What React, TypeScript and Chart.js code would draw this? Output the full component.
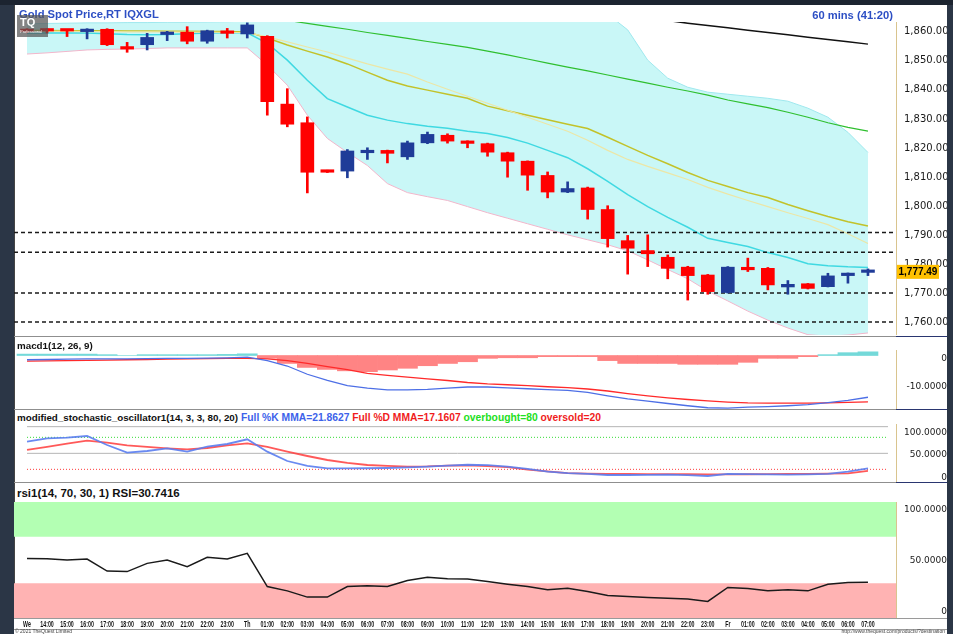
import React, { useEffect, useRef } from 'react';
import { Chart, registerables } from 'chart.js';

Chart.register(...registerables);
Chart.defaults.font.family = "'DejaVu Sans', sans-serif";

// ---------------- data ----------------
const xLabels = ['We','14:00','15:00','16:00','17:00','18:00','19:00','20:00','21:00','22:00','23:00','Th','01:00','02:00','03:00','04:00','05:00','06:00','07:00','08:00','09:00','10:00','11:00','12:00','13:00','14:00','15:00','16:00','17:00','18:00','19:00','20:00','21:00','22:00','23:00','Fr','01:00','02:00','03:00','04:00','05:00','06:00','07:00'];

const openP = [1860.4,1860.8,1860.6,1860.0,1860.8,1854.2,1855.5,1859.0,1859.8,1856.7,1859.7,1859.2,1858.4,1835.1,1828.7,1812.3,1812.1,1818.4,1819.2,1817.0,1821.8,1824.4,1822.4,1821.5,1818.4,1815.5,1810.6,1804.9,1806.3,1798.9,1788.2,1784.8,1782.5,1779.1,1776.4,1770.4,1779.0,1778.7,1772.3,1773.4,1772.4,1776.2,1777.3];
const highP = [1861.0,1861.0,1860.7,1861.0,1861.0,1856.3,1859.4,1860.1,1861.7,1860.5,1861.1,1863.0,1858.6,1840.4,1830.7,1812.4,1819.5,1820.1,1819.3,1822.4,1825.5,1824.9,1822.5,1821.7,1818.6,1815.6,1811.8,1808.4,1806.6,1800.2,1790.0,1790.2,1783.3,1779.4,1776.6,1779.3,1782.2,1779.0,1774.5,1773.5,1777.0,1777.1,1778.5];
const lowP = [1859.6,1859.5,1858.3,1857.5,1855.2,1852.9,1853.7,1856.9,1855.8,1856.0,1857.8,1857.8,1831.3,1827.3,1804.6,1811.6,1809.8,1816.1,1814.9,1816.1,1821.5,1821.7,1820.1,1817.2,1810.0,1805.5,1802.9,1804.7,1795.6,1786.0,1776.7,1779.3,1775.1,1767.8,1769.8,1770.2,1777.6,1771.3,1769.8,1771.6,1772.3,1773.6,1776.2];
const closeP = [1860.0,1860.2,1860.2,1860.3,1855.5,1854.0,1858.0,1859.4,1856.7,1860.3,1859.4,1862.3,1835.9,1828.2,1811.7,1811.7,1819.0,1819.2,1818.2,1821.8,1824.7,1822.4,1821.6,1818.6,1815.5,1810.7,1804.9,1806.1,1798.9,1788.9,1785.6,1783.7,1778.7,1776.2,1770.7,1779.1,1778.2,1773.0,1773.2,1771.8,1776.1,1776.9,1777.49];

const bbUpper = [1862.7,1862.8,1862.9,1863.0,1863.0,1863.1,1863.1,1863.2,1863.2,1863.3,1863.4,1863.6,1866.0,1872.0,1879.0,1884.0,1886.0,1887.0,1887.0,1886.0,1884.5,1883.0,1881.5,1880.0,1878.5,1877.0,1875.0,1873.0,1870.5,1866.0,1860.6,1850.2,1844.0,1840.9,1839.2,1838.5,1837.8,1837.1,1836.1,1833.7,1830.6,1825.4,1818.5];
const bbMiddle = [1859.4,1859.5,1859.5,1859.5,1859.3,1859.0,1858.9,1859.0,1859.3,1859.5,1859.6,1859.6,1856.0,1850.2,1843.3,1837.0,1834.1,1831.3,1829.6,1828.4,1827.5,1826.8,1825.8,1825.0,1823.6,1821.7,1819.2,1816.7,1812.9,1808.6,1804.0,1799.9,1796.2,1792.8,1789.0,1787.6,1786.2,1784.1,1782.4,1780.3,1779.6,1779.2,1779.0];
const bbLower = [1852.3,1852.7,1853.2,1853.7,1853.9,1854.0,1854.2,1854.4,1854.4,1854.4,1854.4,1854.4,1848.5,1841.6,1831.3,1823.3,1818.5,1814.0,1807.8,1804.7,1803.3,1802.0,1799.9,1797.8,1795.9,1794.0,1792.1,1790.2,1788.5,1786.8,1784.7,1781.6,1778.3,1775.1,1770.9,1767.5,1764.0,1760.9,1758.2,1755.9,1755.4,1755.8,1756.5];
const maOlive = [1860.4,1860.4,1860.3,1860.3,1860.3,1860.2,1860.2,1860.1,1860.1,1860.0,1860.0,1859.9,1857.8,1855.4,1853.3,1851.3,1848.9,1846.1,1843.3,1841.3,1839.9,1838.5,1837.1,1834.4,1832.8,1831.3,1829.7,1828.2,1826.7,1823.7,1820.6,1817.5,1814.6,1811.6,1808.9,1806.8,1804.7,1803.0,1800.6,1798.5,1796.5,1794.7,1793.2];
const maPale = [1860.1,1860.1,1860.1,1860.0,1860.0,1859.9,1859.9,1859.9,1859.8,1859.8,1859.7,1859.7,1858.2,1856.5,1854.7,1853.0,1850.9,1848.9,1847.1,1845.4,1842.7,1840.2,1837.8,1835.4,1833.0,1830.6,1828.2,1825.8,1822.7,1819.2,1816.1,1813.7,1811.5,1809.2,1806.5,1804.2,1802.0,1799.9,1797.8,1795.8,1793.7,1790.6,1787.2];
const maGreen = [null,null,null,null,null,null,null,null,null,null,null,null,null,1863.9,1862.8,1861.8,1860.8,1859.7,1858.7,1857.7,1856.6,1855.6,1854.6,1853.3,1852.0,1850.6,1849.2,1847.8,1846.5,1845.1,1843.7,1842.3,1840.9,1839.6,1838.2,1836.5,1835.2,1833.9,1832.3,1830.6,1828.7,1827.1,1825.8];
const maBlack = [null,null,null,null,null,null,null,null,null,null,null,null,null,null,null,null,null,null,null,null,null,null,null,null,null,null,null,null,null,null,null,null,1863.8,1862.9,1862.1,1861.3,1860.5,1859.7,1858.9,1858.1,1857.3,1856.5,1855.7];
const levelLines = [1791.0, 1784.2, 1770.2, 1760.3];
const priceTicks = [1760, 1770, 1780, 1790, 1800, 1810, 1820, 1830, 1840, 1850, 1860];

const macdLine = [-1.5,-1.4,-1.3,-1.2,-1.2,-1.2,-1.1,-1.0,-1.0,-0.9,-0.8,-0.6,-1.8,-3.7,-6.6,-8.8,-10.6,-11.5,-12.1,-12.1,-11.9,-11.5,-11.1,-11.1,-11.4,-11.7,-12.0,-12.3,-13.0,-14.2,-15.3,-16.1,-16.9,-17.7,-18.4,-18.5,-18.2,-18.0,-17.7,-17.3,-16.6,-15.8,-14.7];
const macdSignal = [-2.0,-1.9,-1.8,-1.7,-1.6,-1.5,-1.4,-1.3,-1.2,-1.1,-1.0,-1.0,-1.2,-1.8,-2.8,-3.9,-5.0,-6.3,-7.0,-7.6,-8.2,-8.8,-9.5,-10.0,-10.3,-10.6,-11.0,-11.3,-11.8,-12.5,-13.4,-14.2,-14.9,-15.5,-16.0,-16.4,-16.7,-16.8,-16.8,-16.8,-16.7,-16.5,-16.3];
const macdHist = [0.5,0.5,0.5,0.5,0.3,0,0.3,0.3,0.3,0.3,0.4,0.6,-1.0,-2.8,-4.2,-4.9,-5.4,-5.7,-5.1,-4.5,-3.6,-2.8,-2.2,-1.0,-0.8,-0.8,-0.4,-0.4,-0.4,-1.8,-2.8,-2.8,-2.8,-3.1,-3.1,-3.1,-2.4,-1.0,-1.0,-0.4,0.3,1.0,1.3];
const macdTicks = [0, -10];

const stochK = [71.9,78.1,79.4,82.5,65.6,51.3,54.4,59.4,53.1,62.5,67.5,76.3,53.1,35.6,26.3,21.9,21.9,22.0,22.5,23.8,25.0,27.0,28.6,28.0,25.0,21.0,15.6,13.0,11.3,9.4,9.4,9.5,10.0,9.0,7.5,11.3,11.0,10.5,10.0,10.5,11.6,15.6,21.86];
const stochD = [56.3,62.0,68.0,73.8,70.0,65.0,62.0,59.4,57.5,60.0,65.0,68.8,62.0,53.1,45.0,37.5,32.0,28.1,26.5,25.0,25.5,27.0,27.5,26.0,24.0,19.5,16.0,13.0,12.0,11.5,11.3,11.0,11.0,10.8,10.6,10.6,10.8,11.0,11.3,11.5,12.0,12.5,17.16];
const stochTicks = [100, 50, 0];
const overbought = 80;
const oversold = 20;

const rsiValues = [51.4,51.1,50.0,50.8,40.5,40.0,47.1,50.0,44.3,52.3,50.8,55.7,27.1,23.4,18.0,18.0,27.1,27.7,27.1,32.3,35.1,33.9,33.6,31.4,29.1,27.1,24.3,25.7,22.9,19.4,18.6,17.7,17.1,16.3,14.3,26.3,25.4,23.4,24.3,23.4,29.1,30.5,30.74];
const rsiTicks = [100, 50, 0];
const rsiHigh = 70;
const rsiLow = 30;

// ---------------- helpers ----------------
const X_MIN = -0.65;
const X_MAX = 43.4;
const AXIS_W = 51;
const RED = '#ff0000';
const BLUE = '#1f3c98';

const pts = (arr: (number | null)[]) => arr.map((y, i) => ({ x: i, y }));
const hline = (v: number, a = X_MIN, b = X_MAX) => [{ x: a, y: v }, { x: b, y: v }];

function xScale(show: boolean) {
  return {
    type: 'linear', min: X_MIN, max: X_MAX, offset: false, display: show,
    grid: { display: false, offset: false, drawTicks: false },
    border: { display: false },
    afterBuildTicks: (s: any) => { s.ticks = xLabels.map((_, i) => ({ value: i })); },
    afterFit: (s: any) => { s.height = show ? 12 : 0; s.paddingLeft = 0; s.paddingRight = 0; },
    ticks: { display: false, autoSkip: false, maxRotation: 0, minRotation: 0, callback: (v: number) => xLabels[Math.round(v)] ?? '' },
  };
}

// time labels drawn in a condensed face (horizontal squeeze), like the reference
const timeLabelPlugin = {
  id: 'timeLabels',
  afterDraw(chart: any) {
    const { ctx, chartArea } = chart;
    const xs = chart.scales.x;
    ctx.save();
    ctx.font = "bold 8.5px 'Liberation Sans', sans-serif";
    ctx.fillStyle = '#151515';
    ctx.textAlign = 'center';
    ctx.textBaseline = 'middle';
    const yy = chartArea.bottom + 6.7;
    xLabels.forEach((lab, i) => {
      const px = xs.getPixelForValue(i);
      ctx.save();
      ctx.translate(px, yy);
      ctx.scale(0.62, 1);
      ctx.fillText(lab, 0, 0);
      ctx.restore();
    });
    ctx.restore();
  },
};

function yScale(c: any) {
  return {
    type: 'linear', position: 'right', min: c.min, max: c.max,
    grid: { display: false, drawTicks: false },
    border: { display: true, color: '#d9c48e', width: 1, dash: [1, 2] },
    afterBuildTicks: (s: any) => { s.ticks = c.ticks.map((v: number) => ({ value: v })); },
    afterFit: (s: any) => { s.width = AXIS_W; s.paddingTop = 0; s.paddingBottom = 0; },
    ticks: {
      padding: c.padding, crossAlign: c.far ? 'far' : 'near', labelOffset: c.labelOffset ?? 0,
      color: '#1a1a1a',
      font: { family: "'DejaVu Sans', sans-serif", size: c.size, lineHeight: c.lineHeight ?? 1.2 },
      callback: (v: number) => c.fmt(v),
    },
  };
}

function baseOptions(x: any, y: any, padding: any) {
  return {
    responsive: false, maintainAspectRatio: false, animation: false, events: [],
    layout: { padding },
    plugins: { legend: { display: false }, tooltip: { enabled: false } },
    scales: { x, y },
  };
}

const line = (data: any, color: string, width: number, order: number, extra: any = {}) => ({
  type: 'line', data, borderColor: color, borderWidth: width, pointRadius: 0, tension: 0,
  spanGaps: false, order, ...extra,
});

// ---------------- chart configs ----------------
const lastClose = closeP[closeP.length - 1];

function priceConfig() {
  const colors = closeP.map((c, i) => (c >= openP[i] ? BLUE : RED));
  const datasets: any[] = [
    { type: 'bar', data: closeP.map((c, i) => ({ x: i, y: [Math.min(c, openP[i]), Math.max(c, openP[i])] })),
      backgroundColor: colors, barThickness: 13, grouped: false, minBarLength: 2.5, order: 0 },
    { type: 'bar', data: closeP.map((_, i) => ({ x: i, y: [lowP[i], highP[i]] })),
      backgroundColor: colors, barThickness: 2, grouped: false, order: 1 },
    ...levelLines.map((v) => line(hline(v), '#1a1a1a', 1.5, 2, { borderDash: [4, 3] })),
    line(pts(maBlack), '#111111', 1.5, 3),
    line(pts(maGreen), '#2fbf2f', 1.2, 4),
    line(pts(maPale), '#ece6a6', 1.2, 5),
    line(pts(maOlive), '#c2c22a', 1.5, 6),
    line(pts(bbMiddle), '#3fd9e2', 1.5, 7),
    line(pts(bbUpper), '#9fe8ee', 1, 10, { fill: '+1', backgroundColor: '#c9f7f7' }),
    line(pts(bbLower), '#f2b6cb', 1, 9),
  ];
  const y = yScale({
    min: 1755.8, max: 1863.3, ticks: priceTicks, padding: 8, far: false, size: 10,
    fmt: (v: number) => v.toLocaleString('en-US', { minimumFractionDigits: 2, maximumFractionDigits: 2 }),
  });
  return {
    type: 'line',
    data: { datasets },
    options: baseOptions(xScale(false), y, { top: 17, bottom: 0, left: 0, right: 0 }),
    plugins: [{
      id: 'lastPrice',
      afterDraw(chart: any) {
        const { ctx, chartArea } = chart;
        const yy = chart.scales.y.getPixelForValue(lastClose);
        ctx.save();
        ctx.fillStyle = '#ffc000';
        ctx.fillRect(chartArea.right + 1, yy - 7, 42, 14);
        ctx.fillStyle = '#000';
        ctx.font = "bold 10px 'Liberation Sans', sans-serif";
        ctx.textAlign = 'left';
        ctx.textBaseline = 'middle';
        ctx.fillText(lastClose.toLocaleString('en-US', { minimumFractionDigits: 2 }), chartArea.right + 2.5, yy + 0.5);
        ctx.restore();
      },
    }],
  };
}

function macdConfig() {
  const datasets: any[] = [
    line(pts(macdLine), '#4d6fe6', 1.3, 0),
    line(pts(macdSignal), '#ff2a2a', 1.3, 1),
    { type: 'bar', data: pts(macdHist), backgroundColor: macdHist.map((v) => (v >= 0 ? '#74d9d9' : '#ff8484')),
      barPercentage: 1, categoryPercentage: 1, grouped: false, order: 2 },
  ];
  const y = yScale({
    min: -18.84, max: 1.94, ticks: macdTicks, padding: 7.5, far: true, size: 9, labelOffset: 3,
    fmt: (v: number) => (v === 0 ? '0' : v.toFixed(4)),
  });
  return { type: 'line', data: { datasets }, options: baseOptions(xScale(false), y, 0) };
}

function stochConfig() {
  const datasets: any[] = [
    line(pts(stochK), 'rgba(90,125,240,0.9)', 1.8, 0),
    line(pts(stochD), 'rgba(255,60,60,0.85)', 1.8, 1),
    line(hline(overbought, 0, 43), '#35dd35', 1, 2, { borderDash: [1, 2] }),
    line(hline(oversold, 0, 43), '#ff3a3a', 1, 3, { borderDash: [1, 2] }),
    line(hline(100, 0, 43), '#b5b5b5', 1, 4),
    line(hline(50, 0, 43), '#b5b5b5', 1, 5),
  ];
  const y = yScale({
    min: -3.75, max: 105, ticks: stochTicks, padding: 5, far: true, size: 9, labelOffset: 1.5, lineHeight: 0.9,
    fmt: (v: number) => (v === 100 ? ['', '100.0000'] : v === 0 ? ['0', ''] : v.toFixed(4)),
  });
  return { type: 'line', data: { datasets }, options: baseOptions(xScale(false), y, 0) };
}

function rsiConfig() {
  const datasets: any[] = [
    line(pts(rsiValues), '#1a1a1a', 1.5, 0),
    line(hline(100), 'rgba(0,0,0,0)', 0, 3, { fill: '+1', backgroundColor: '#b3ffb3' }),
    line(hline(rsiHigh), 'rgba(0,0,0,0)', 0, 4),
    line(hline(rsiLow), 'rgba(0,0,0,0)', 0, 5, { fill: { value: 0 }, backgroundColor: '#ffb3b3' }),
  ];
  const y = yScale({
    min: 0, max: 100, ticks: rsiTicks, padding: 5, far: true, size: 9, labelOffset: 0.5, lineHeight: 1.5,
    fmt: (v: number) => (v === 100 ? ['', '100.0000'] : v === 0 ? ['0', ''] : v.toFixed(4)),
  });
  return {
    type: 'line', data: { datasets },
    options: baseOptions(xScale(true), y, { top: 2, bottom: 1, left: 0, right: 0 }),
    plugins: [timeLabelPlugin],
  };
}

// ---------------- components ----------------
function ChartCanvas({ left, top, width, height, make }: any) {
  const ref = useRef<HTMLCanvasElement>(null);
  useEffect(() => {
    const chart = new Chart(ref.current as HTMLCanvasElement, make());
    return () => chart.destroy();
  }, []);
  return <canvas ref={ref} width={width} height={height} style={{ position: 'absolute', left, top, width, height }} />;
}

const abs = (s: any) => ({ position: 'absolute', ...s });
const titleFont = "'Liberation Sans', 'Arial', sans-serif";

function HSep({ y }: { y: number }) {
  return (
    <>
      <div style={abs({ left: 14, top: y, width: 882, height: 1, background: '#8f8f8f' })} />
      <div style={abs({ left: 896, top: y, width: 51, height: 1, background: '#2a3670' })} />
    </>
  );
}

export default function App() {
  const panelTitle = { fontFamily: titleFont, fontWeight: 'bold', fontSize: 9.8, lineHeight: '13px', color: '#111', whiteSpace: 'nowrap' };
  return (
    <div style={{ position: 'fixed', left: 0, top: 0, width: 953, height: 634, background: '#2b3646', overflow: 'hidden' }}>
      <div style={abs({ left: 0, top: 0, width: 953, height: 5, background: '#1c2430' })} />
      <div style={abs({ left: 14, top: 5, width: 933, height: 629, background: '#ffffff' })} />
      <div style={abs({ left: 14, top: 5, width: 1, height: 613, background: '#444' })} />

      <ChartCanvas left={14} top={5} width={933} height={330} make={priceConfig} />
      <ChartCanvas left={14} top={350} width={933} height={59} make={macdConfig} />
      <ChartCanvas left={14} top={424} width={933} height={58} make={stochConfig} />
      <ChartCanvas left={14} top={500} width={933} height={131} make={rsiConfig} />

      <HSep y={336} />
      <HSep y={409} />
      <HSep y={482} />
      <div style={abs({ left: 14, top: 618, width: 933, height: 1, background: '#9a9a9a' })} />
      <div style={abs({ left: 14, top: 629, width: 933, height: 1, background: '#9a9a9a' })} />

      <div style={abs({ left: 19, top: 7, fontFamily: titleFont, fontWeight: 'bold', fontSize: 11.2, lineHeight: '14px', color: '#2d4fc4', whiteSpace: 'nowrap' })}>Gold Spot Price,RT IQXGL</div>
      <div style={abs({ right: 60, top: 8, fontFamily: titleFont, fontWeight: 'bold', fontSize: 11.2, lineHeight: '14px', color: '#2d4fc4', whiteSpace: 'nowrap' })}>60 mins (41:20)</div>

      <div style={abs({ left: 17, top: 15, width: 31, height: 22, background: 'rgba(85,85,85,0.72)', color: '#fff', boxSizing: 'border-box', paddingLeft: 3, fontFamily: titleFont })}>
        <div style={{ fontWeight: 'bold', fontSize: 11, lineHeight: '14px' }}>TQ</div>
        <div style={{ fontSize: 4, lineHeight: '5px' }}>Professional</div>
      </div>

      <div style={abs({ left: 17, top: 339, ...panelTitle })}>macd1(12, 26, 9)</div>
      <div style={abs({ left: 17, top: 411, ...panelTitle })}>
        modified_stochastic_oscillator1(14, 3, 3, 80, 20)
        <span style={{ color: '#3d62ea', fontSize: 10.3 }}> Full %K MMA=21.8627</span>
        <span style={{ color: '#f01c1c', fontSize: 10.3 }}> Full %D MMA=17.1607</span>
        <span style={{ color: '#22e022', fontSize: 10.3 }}> overbought=80</span>
        <span style={{ color: '#f01c1c', fontSize: 10.3 }}> oversold=20</span>
      </div>
      <div style={abs({ left: 17, top: 487, ...panelTitle, fontSize: 11.5 })}>rsi1(14, 70, 30, 1) RSI=30.7416</div>

      <div style={abs({ left: 15, top: 629, fontFamily: titleFont, fontSize: 5, lineHeight: '5px', color: '#444', whiteSpace: 'nowrap' })}>© 2021 TheQuest Limited</div>
      <div style={abs({ right: 8, top: 629, fontFamily: titleFont, fontSize: 5, lineHeight: '5px', color: '#444', whiteSpace: 'nowrap' })}>http://www.thequest.com/products/?destination</div>
    </div>
  );
}
